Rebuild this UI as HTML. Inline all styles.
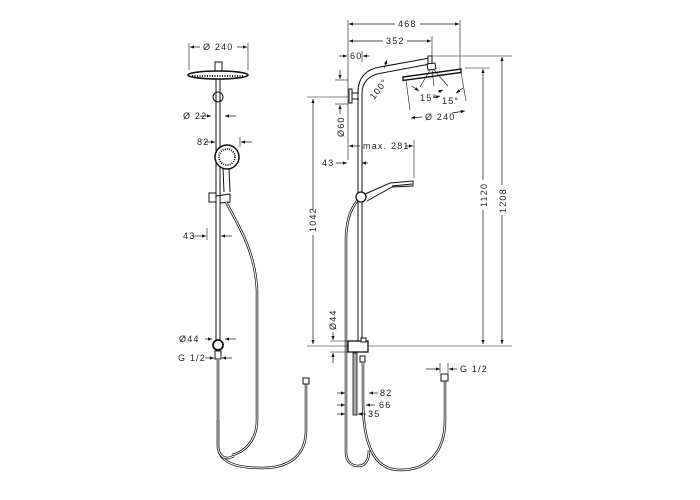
<!DOCTYPE html>
<html><head><meta charset="utf-8"><style>
html,body{margin:0;padding:0;background:#fff;}
svg{display:block}
text{font-family:"Liberation Sans",sans-serif;font-size:9px;fill:#222;letter-spacing:1.2px}
</style></head><body>
<svg width="700" height="500" viewBox="0 0 700 500" xmlns="http://www.w3.org/2000/svg">
<defs>
<marker id="a" viewBox="0 0 10 10" refX="10" refY="5" markerWidth="6" markerHeight="6" orient="auto-start-reverse"><path d="M0,1 L10,5 L0,9 z" fill="#111"/></marker>
</defs>
<g stroke="#111" fill="none" stroke-width="1">
<!-- LEFT FIGURE -->
<line x1="189" y1="43" x2="189" y2="70" stroke-width="0.6"/>
<line x1="248" y1="43" x2="248" y2="70" stroke-width="0.6"/>
<line x1="190" y1="47" x2="200" y2="47" marker-start="url(#a)" stroke-width="0.7"/>
<line x1="237" y1="47" x2="247" y2="47" marker-end="url(#a)" stroke-width="0.7"/>
<rect x="215" y="62" width="7" height="9" fill="#fff"/>
<ellipse cx="218" cy="75" rx="30" ry="4" fill="#fff" stroke-width="1.6"/>
<line x1="192" y1="76" x2="244" y2="76" stroke-dasharray="1,1.5" stroke-width="2"/>
<line x1="216" y1="79" x2="216" y2="342"/><line x1="220" y1="79" x2="220" y2="342"/>
<circle cx="218" cy="97" r="5"/>
<line x1="200" y1="116" x2="211" y2="116" marker-end="url(#a)" stroke-width="0.7"/>
<line x1="236" y1="116" x2="225" y2="116" marker-end="url(#a)" stroke-width="0.7"/>
<line x1="205" y1="142" x2="215" y2="142" marker-end="url(#a)" stroke-width="0.7"/>
<line x1="240" y1="137" x2="240" y2="147" stroke-width="0.6"/>
<line x1="252" y1="142" x2="241" y2="142" marker-end="url(#a)" stroke-width="0.7"/>
<circle cx="227" cy="157" r="12" fill="#fff" stroke-width="1.5"/>
<circle cx="227" cy="157" r="8" stroke-dasharray="1,1.2" stroke-width="1.8"/>
<path d="M223,168 L224,192 M229,168 L230,192"/>
<rect x="209" y="193" width="7" height="9" fill="#fff"/>
<path d="M216,196 L230,194 L230,202 L220,203"/>
<path d="M226,202 C238,225 255,250 257,290 L257,420 C257,440 245,452 232,455" stroke-width="2.5"/>
<path d="M226,202 C238,225 255,250 257,290 L257,420 C257,440 245,452 232,455" stroke="#fff" stroke-width="1"/>
<line x1="207" y1="228" x2="207" y2="240" stroke-width="0.6"/>
<line x1="193" y1="236" x2="206" y2="236" marker-end="url(#a)" stroke-width="0.7"/>
<line x1="232" y1="236" x2="221" y2="236" marker-end="url(#a)" stroke-width="0.7"/>
<circle cx="218" cy="345" r="5" stroke-width="1.8" fill="#fff"/>
<line x1="205" y1="339" x2="212" y2="339" marker-end="url(#a)" stroke-width="0.7"/>
<line x1="236" y1="339" x2="225" y2="339" marker-end="url(#a)" stroke-width="0.7"/>
<rect x="215" y="351" width="6" height="8" fill="#fff"/>
<line x1="205" y1="358" x2="214" y2="358" marker-end="url(#a)" stroke-width="0.7"/>
<line x1="232" y1="358" x2="222" y2="358" marker-end="url(#a)" stroke-width="0.7"/>
<path d="M218,360 L218,445 C218,462 235,468 262,468 C290,468 306,455 306,430 L306,384" stroke-width="2.5"/>
<path d="M218,360 L218,445 C218,462 235,468 262,468 C290,468 306,455 306,430 L306,384" stroke="#fff" stroke-width="1"/>
<rect x="303" y="378" width="6" height="6" fill="#fff"/>
<path d="M218,420 L218,448 C220,458 226,460 234,456" stroke-width="2.5"/>
<path d="M218,420 L218,448 C220,458 226,460 234,456" stroke="#fff" stroke-width="1"/>

<!-- RIGHT FIGURE -->
<line x1="348" y1="20" x2="348" y2="160" stroke-width="0.6"/>
<line x1="460" y1="20" x2="460" y2="72" stroke-width="0.6"/>
<line x1="432" y1="36" x2="432" y2="56" stroke-width="0.6"/>
<line x1="362" y1="51" x2="362" y2="62" stroke-width="0.6"/>
<line x1="349" y1="24" x2="395" y2="24" marker-start="url(#a)" stroke-width="0.7"/>
<line x1="420" y1="24" x2="459" y2="24" marker-end="url(#a)" stroke-width="0.7"/>
<line x1="349" y1="41" x2="383" y2="41" marker-start="url(#a)" stroke-width="0.7"/>
<line x1="407" y1="41" x2="431" y2="41" marker-end="url(#a)" stroke-width="0.7"/>
<line x1="339" y1="56" x2="347" y2="56" marker-end="url(#a)" stroke-width="0.7"/>
<line x1="370" y1="56" x2="363" y2="56" marker-end="url(#a)" stroke-width="0.7"/>
<path d="M358,345 L358,92 C358,78 366,69 380,67 L430,58" />
<path d="M362,345 L362,94 C362,82 369,75 382,73 L430,64" />
<rect x="428" y="56" width="4" height="8" fill="#fff"/>
<path d="M427,64 L435,63 L436,69 L428,70 z" fill="#fff"/>
<path d="M403,77 L461,69 L461,72.5 L403,80.5 z" fill="#fff" stroke-width="1.4"/>
<line x1="432" y1="56" x2="512" y2="56" stroke-width="0.6"/>
<path d="M406,80 L410,110 M461,72 L466,101" stroke-width="0.6"/>
<path d="M430,70 L420,87 M432,70 L434,86 M434,70 L448,86" stroke-width="0.6"/>
<line x1="411" y1="118" x2="422" y2="117" marker-start="url(#a)" stroke-width="0.7"/>
<line x1="452" y1="113" x2="465" y2="111" marker-end="url(#a)" stroke-width="0.7"/>
<line x1="412" y1="86" x2="419" y2="91" marker-end="url(#a)" stroke-width="0.7"/>
<line x1="438" y1="92" x2="443" y2="90" marker-end="url(#a)" stroke-width="0.7"/>
<line x1="463" y1="88" x2="456" y2="93" marker-end="url(#a)" stroke-width="0.7"/>
<line x1="433" y1="98" x2="440" y2="96" marker-end="url(#a)" stroke-width="0.7"/>
<line x1="384" y1="68" x2="387" y2="60" marker-end="url(#a)" stroke-width="0.7"/>
<rect x="349" y="89" width="3" height="14" fill="#fff"/>
<path d="M352,93 L359,93 M352,99 L359,99"/>
<line x1="335" y1="80" x2="348" y2="80" stroke-width="0.6"/>
<line x1="335" y1="104" x2="348" y2="104" stroke-width="0.6"/>
<line x1="340" y1="70" x2="340" y2="79" marker-end="url(#a)" stroke-width="0.7"/>
<line x1="340" y1="114" x2="340" y2="105" marker-end="url(#a)" stroke-width="0.7"/>
<line x1="307" y1="97" x2="348" y2="97" stroke-width="0.6"/>
<line x1="313" y1="99" x2="313" y2="210" marker-start="url(#a)" stroke-width="0.7"/>
<line x1="313" y1="235" x2="313" y2="344" marker-end="url(#a)" stroke-width="0.7"/>
<line x1="414" y1="140" x2="414" y2="178" stroke-width="0.6"/>
<line x1="349" y1="146" x2="360" y2="146" marker-start="url(#a)" stroke-width="0.7"/>
<line x1="405" y1="146" x2="413" y2="146" marker-end="url(#a)" stroke-width="0.7"/>
<line x1="336" y1="163" x2="347" y2="163" marker-end="url(#a)" stroke-width="0.7"/>
<line x1="368" y1="163" x2="362" y2="163" marker-end="url(#a)" stroke-width="0.7"/>
<path d="M365,194 L390,183 L413,181 L413,186 L392,187 L367,201"/>
<line x1="392" y1="186" x2="412" y2="184"/>
<circle cx="361" cy="197" r="5" fill="#fff" stroke-width="1.3"/>
<path d="M357,201 C350,210 346,222 346,240 L346,452 C346,462 352,466 358,466 C366,466 369,460 369,450" stroke-width="2.5"/>
<path d="M357,201 C350,210 346,222 346,240 L346,452 C346,462 352,466 358,466 C366,466 369,460 369,450" stroke="#fff" stroke-width="1"/>
<line x1="465" y1="68" x2="490" y2="68" stroke-width="0.6"/>
<line x1="483" y1="69" x2="483" y2="180" marker-start="url(#a)" stroke-width="0.7"/>
<line x1="483" y1="210" x2="483" y2="344" marker-end="url(#a)" stroke-width="0.7"/>
<line x1="502" y1="57" x2="502" y2="185" marker-start="url(#a)" stroke-width="0.7"/>
<line x1="502" y1="215" x2="502" y2="344" marker-end="url(#a)" stroke-width="0.7"/>
<line x1="307" y1="346" x2="512" y2="346" stroke-width="0.6"/>
<rect x="348" y="341" width="20" height="11" fill="#fff" stroke-width="1.3"/>
<rect x="361" y="338" width="5" height="4" fill="#fff"/>
<line x1="333" y1="332" x2="333" y2="340" marker-end="url(#a)" stroke-width="0.7"/>
<line x1="333" y1="363" x2="333" y2="353" marker-end="url(#a)" stroke-width="0.7"/>
<line x1="330" y1="341" x2="348" y2="341" stroke-width="0.6"/>
<line x1="330" y1="352" x2="348" y2="352" stroke-width="0.6"/>
<rect x="353" y="353" width="4" height="62" fill="#aaa" stroke-width="0.8"/>
<rect x="360" y="356" width="5" height="6" fill="#fff"/>
<path d="M363,362 L363,400 C363,440 372,470 400,470 C430,470 445,450 445,420 L445,380" stroke-width="2.5"/>
<path d="M363,362 L363,400 C363,440 372,470 400,470 C430,470 445,450 445,420 L445,380" stroke="#fff" stroke-width="1"/>
<rect x="441" y="374" width="7" height="7" fill="#fff"/>
<line x1="426" y1="369" x2="440" y2="369" marker-end="url(#a)" stroke-width="0.7"/>
<line x1="457" y1="369" x2="449" y2="369" marker-end="url(#a)" stroke-width="0.7"/>
<line x1="440" y1="363" x2="440" y2="373" stroke-width="0.6"/>
<line x1="448" y1="363" x2="448" y2="373" stroke-width="0.6"/>
<line x1="337" y1="393" x2="345" y2="393" marker-end="url(#a)" stroke-width="0.7"/>
<line x1="378" y1="393" x2="369" y2="393" marker-end="url(#a)" stroke-width="0.7"/>
<line x1="337" y1="405" x2="345" y2="405" marker-end="url(#a)" stroke-width="0.7"/>
<line x1="375" y1="405" x2="366" y2="405" marker-end="url(#a)" stroke-width="0.7"/>
<line x1="337" y1="414" x2="345" y2="414" marker-end="url(#a)" stroke-width="0.7"/>
<line x1="366" y1="414" x2="358" y2="414" marker-end="url(#a)" stroke-width="0.7"/>
</g>
<text x="203" y="50">Ø 240</text>
<text x="183" y="119">Ø 22</text>
<text x="197" y="145">82</text>
<text x="183" y="239">43</text>
<text x="179" y="342">Ø44</text>
<text x="178" y="361">G 1/2</text>
<text x="398" y="27">468</text>
<text x="386" y="44">352</text>
<text x="350" y="59">60</text>
<text x="0" y="0" transform="translate(374,100) rotate(-52)">100°</text>
<text x="420" y="101">15°</text>
<text x="442" y="104">15°</text>
<text x="425" y="120">Ø 240</text>
<text x="0" y="0" transform="translate(344,137) rotate(-90)">Ø60</text>
<text x="363" y="149">max. 281</text>
<text x="322" y="166">43</text>
<text x="0" y="0" transform="translate(316,232) rotate(-90)">1042</text>
<text x="0" y="0" transform="translate(487,207) rotate(-90)">1120</text>
<text x="0" y="0" transform="translate(506,213) rotate(-90)">1208</text>
<text x="0" y="0" transform="translate(336,330) rotate(-90)">Ø44</text>
<text x="460" y="372">G 1/2</text>
<text x="380" y="396">82</text>
<text x="379" y="408">66</text>
<text x="368" y="417">35</text>
</svg>
</body></html>
